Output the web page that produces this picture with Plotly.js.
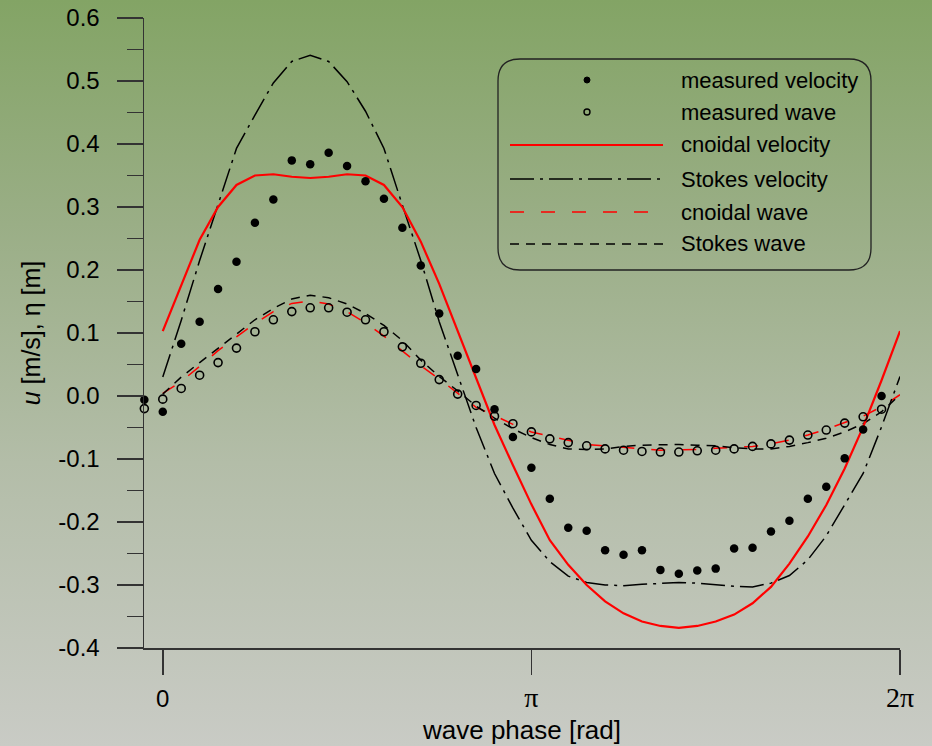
<!DOCTYPE html>
<html><head><meta charset="utf-8">
<script src="https://cdn.plot.ly/plotly-3.0.1.min.js"></script>
<style>
html,body{margin:0;padding:0;}
#chart{width:932px;height:746px;background:linear-gradient(to bottom,#83a465 0%,#9aae86 30%,#b3bda8 62%,#c9cbc5 100%);}
</style></head><body><div id="chart"></div>
<script>
// ---- data ----
const phaseMeasured = [-0.1571, 0, 0.1571, 0.3142, 0.4712, 0.6283, 0.7854, 0.9425, 1.0996, 1.2566, 1.4137, 1.5708, 1.7279, 1.8850, 2.0420, 2.1991, 2.3562, 2.5133, 2.6704, 2.8274, 2.9845, 3.1416, 3.2987, 3.4558, 3.6128, 3.7699, 3.9270, 4.0841, 4.2412, 4.3982, 4.5553, 4.7124, 4.8695, 5.0265, 5.1836, 5.3407, 5.4978, 5.6549, 5.8119, 5.9690, 6.1261];
const measuredVelocity = [-0.006, -0.025, 0.083, 0.118, 0.170, 0.213, 0.275, 0.312, 0.374, 0.368, 0.386, 0.365, 0.341, 0.313, 0.267, 0.207, 0.131, 0.064, 0.043, -0.021, -0.065, -0.114, -0.163, -0.209, -0.214, -0.245, -0.252, -0.245, -0.276, -0.282, -0.277, -0.274, -0.242, -0.241, -0.215, -0.198, -0.163, -0.144, -0.099, -0.053, 0.000];
const measuredWave = [-0.020, -0.005, 0.012, 0.033, 0.053, 0.076, 0.102, 0.121, 0.134, 0.140, 0.140, 0.133, 0.121, 0.102, 0.078, 0.052, 0.026, 0.003, -0.015, -0.032, -0.044, -0.057, -0.068, -0.074, -0.079, -0.084, -0.086, -0.088, -0.089, -0.089, -0.087, -0.086, -0.084, -0.080, -0.076, -0.070, -0.062, -0.054, -0.043, -0.033, -0.021];

const phaseModel = [0, 0.1571, 0.3142, 0.4712, 0.6283, 0.7854, 0.9425, 1.0996, 1.2566, 1.4137, 1.5708, 1.7279, 1.8850, 2.0420, 2.1991, 2.3562, 2.5133, 2.6704, 2.8274, 2.9845, 3.1416, 3.2987, 3.4558, 3.6128, 3.7699, 3.9270, 4.0841, 4.2412, 4.3982, 4.5553, 4.7124, 4.8695, 5.0265, 5.1836, 5.3407, 5.4978, 5.6549, 5.8119, 5.9690, 6.1261, 6.2832];
const cnoidalVelocity = [0.103, 0.176, 0.248, 0.300, 0.335, 0.350, 0.352, 0.348, 0.346, 0.348, 0.352, 0.350, 0.335, 0.300, 0.245, 0.178, 0.103, 0.028, -0.046, -0.110, -0.172, -0.229, -0.268, -0.300, -0.326, -0.345, -0.358, -0.365, -0.368, -0.365, -0.358, -0.347, -0.329, -0.303, -0.266, -0.223, -0.173, -0.115, -0.049, 0.025, 0.103];
const stokesVelocity = [0.030, 0.120, 0.215, 0.303, 0.393, 0.446, 0.497, 0.531, 0.541, 0.531, 0.499, 0.452, 0.393, 0.303, 0.215, 0.118, 0.035, -0.050, -0.123, -0.178, -0.229, -0.263, -0.286, -0.296, -0.300, -0.301, -0.299, -0.297, -0.296, -0.297, -0.300, -0.302, -0.303, -0.297, -0.285, -0.260, -0.222, -0.172, -0.123, -0.049, 0.031];
const cnoidalWave = [0.004, 0.023, 0.047, 0.072, 0.094, 0.115, 0.134, 0.147, 0.151, 0.146, 0.134, 0.116, 0.095, 0.071, 0.048, 0.027, 0.004, -0.018, -0.031, -0.045, -0.057, -0.064, -0.071, -0.077, -0.079, -0.082, -0.084, -0.086, -0.086, -0.085, -0.083, -0.082, -0.080, -0.076, -0.070, -0.062, -0.053, -0.042, -0.032, -0.017, 0.002];
const stokesWave = [0.003, 0.030, 0.053, 0.076, 0.098, 0.121, 0.139, 0.154, 0.160, 0.156, 0.146, 0.131, 0.112, 0.088, 0.057, 0.031, 0.008, -0.016, -0.035, -0.052, -0.066, -0.077, -0.084, -0.085, -0.084, -0.080, -0.078, -0.077, -0.077, -0.078, -0.079, -0.082, -0.084, -0.084, -0.080, -0.074, -0.067, -0.057, -0.044, -0.025, 0.002];

const yTickVals = [-0.4, -0.3, -0.2, -0.1, 0.0, 0.1, 0.2, 0.3, 0.4, 0.5, 0.6];
const yTickText = ["-0.4", "-0.3", "-0.2", "-0.1", "0.0", "0.1", "0.2", "0.3", "0.4", "0.5", "0.6"];
const yMinorVals = [-0.35, -0.25, -0.15, -0.05, 0.05, 0.15, 0.25, 0.35, 0.45, 0.55];
const xTickVals = [0, Math.PI, 2 * Math.PI];
const xTickText = ["0", "<span style='font-family:Liberation Serif;font-size:28px'>π</span>", "<span style='font-family:Liberation Serif;font-size:28px'>2π</span>"];
const seriesNames = ["measured velocity", "measured wave", "cnoidal velocity", "Stokes velocity", "cnoidal wave", "Stokes wave"];

// ---- styles ----
const FONT = "Liberation Sans, Arial, sans-serif";
const RED = "#ff0000";
const dashDot = "24px,6px,3px,6px";
const redDash = "14px,17px";
const blackDash = "9px,7px";

const traces = [
  {x: phaseModel, y: cnoidalWave, name: seriesNames[4], mode: "lines", line: {color: RED, width: 1.5, dash: redDash}},
  {x: phaseModel, y: stokesWave, name: seriesNames[5], mode: "lines", line: {color: "#000", width: 1.5, dash: blackDash}},
  {x: phaseModel, y: stokesVelocity, name: seriesNames[3], mode: "lines", line: {color: "#000", width: 1.5, dash: dashDot}},
  {x: phaseModel, y: cnoidalVelocity, name: seriesNames[2], mode: "lines", line: {color: RED, width: 2.2}},
  {x: phaseMeasured, y: measuredVelocity, name: seriesNames[0], mode: "markers", cliponaxis: false,
   marker: {symbol: "circle", size: 8.5, color: "#000"}},
  {x: phaseMeasured, y: measuredWave, name: seriesNames[1], mode: "markers", cliponaxis: false,
   marker: {symbol: "circle-open", size: 8, color: "#000", line: {width: 1.6, color: "#000"}}}
];

// ---- custom legend (decoration in paper coords) ----
const L = 144, R = 900, T = 18, B = 648;
const px = v => (v - L) / (R - L);
const py = v => (B - v) / (B - T);
const rowY = [80, 112, 145, 179, 212, 244];
const bx0 = px(498), bx1 = px(871), byT = py(59), byB = py(270);
const rx = 22 / (R - L), ry = 22 / (B - T);
const boxPath = `M ${bx0 + rx},${byT} L ${bx1 - rx},${byT} Q ${bx1},${byT} ${bx1},${byT - ry} L ${bx1},${byB + ry} Q ${bx1},${byB} ${bx1 - rx},${byB} L ${bx0 + rx},${byB} Q ${bx0},${byB} ${bx0},${byB + ry} L ${bx0},${byT - ry} Q ${bx0},${byT} ${bx0 + rx},${byT} Z`;

const shapes = [
  {type: "path", xref: "paper", yref: "paper", path: boxPath, line: {color: "#222", width: 1.3}},
  {type: "circle", xref: "paper", yref: "paper", x0: px(584), x1: px(590), y0: py(rowY[0] + 3), y1: py(rowY[0] - 3), fillcolor: "#000", line: {color: "#000", width: 1}},
  {type: "circle", xref: "paper", yref: "paper", x0: px(584), x1: px(590), y0: py(rowY[1] + 3), y1: py(rowY[1] - 3), line: {color: "#000", width: 1.4}},
  {type: "line", xref: "paper", yref: "paper", x0: px(510), x1: px(663), y0: py(rowY[2]), y1: py(rowY[2]), line: {color: RED, width: 2.2}},
  {type: "line", xref: "paper", yref: "paper", x0: px(510), x1: px(663), y0: py(rowY[3]), y1: py(rowY[3]), line: {color: "#000", width: 1.5, dash: dashDot}},
  {type: "line", xref: "paper", yref: "paper", x0: px(510), x1: px(656), y0: py(rowY[4]), y1: py(rowY[4]), line: {color: RED, width: 1.5, dash: redDash}},
  {type: "line", xref: "paper", yref: "paper", x0: px(510), x1: px(663), y0: py(rowY[5]), y1: py(rowY[5]), line: {color: "#000", width: 1.5, dash: blackDash}}
];
const annotations = seriesNames.map((n, i) => ({
  xref: "paper", yref: "paper", x: px(679), y: py(rowY[i]), xanchor: "left", yanchor: "middle",
  text: n, showarrow: false, font: {family: FONT, size: 22, color: "#000"}
}));

const layout = {
  width: 932, height: 746,
  margin: {l: L, r: 932 - R, t: T, b: 746 - B},
  paper_bgcolor: "rgba(0,0,0,0)", plot_bgcolor: "rgba(0,0,0,0)",
  showlegend: false,
  font: {family: FONT, color: "#000"},
  xaxis: {
    range: [-0.16, 2 * Math.PI], tickmode: "array", tickvals: xTickVals, ticktext: xTickText,
    ticks: "outside", ticklen: 25, tickwidth: 1.5, tickcolor: "#333",
    showline: true, linecolor: "#333", linewidth: 1.5, showgrid: false, zeroline: false,
    tickfont: {family: FONT, size: 24, color: "#000"}, ticklabelstandoff: 4,
    title: {text: "wave phase [rad]", font: {family: FONT, size: 26, color: "#000"}, standoff: 8}
  },
  yaxis: {
    range: [-0.4, 0.6], tickmode: "array", tickvals: yTickVals, ticktext: yTickText,
    ticks: "outside", ticklen: 26, tickwidth: 1.5, tickcolor: "#333",
    minor: {tickmode: "array", tickvals: yMinorVals, ticks: "outside", ticklen: 16, tickwidth: 1.5, tickcolor: "#333"},
    showline: true, linecolor: "#333", linewidth: 1.5, showgrid: false, zeroline: false,
    tickfont: {family: FONT, size: 24, color: "#000"}, ticklabelstandoff: 12,
    title: {text: "<i>u</i> [m/s], η [m]", font: {family: FONT, size: 25, color: "#000"}, standoff: 10}
  },
  shapes: shapes,
  annotations: annotations
};

Plotly.newPlot("chart", traces, layout, {displayModeBar: false, staticPlot: true});
</script>
</body></html>
